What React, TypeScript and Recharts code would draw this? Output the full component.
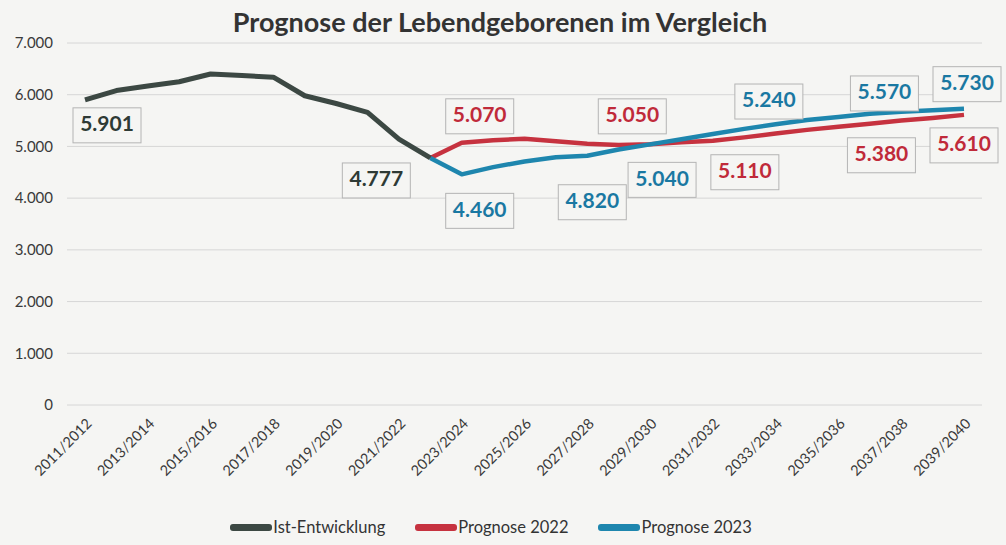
import { LineChart, Line, XAxis, YAxis, CartesianGrid, Legend } from "recharts";

const categories = [
  "2011/2012", "2012/2013", "2013/2014", "2014/2015", "2015/2016", "2016/2017",
  "2017/2018", "2018/2019", "2019/2020", "2020/2021", "2021/2022", "2022/2023",
  "2023/2024", "2024/2025", "2025/2026", "2026/2027", "2027/2028", "2028/2029",
  "2029/2030", "2030/2031", "2031/2032", "2032/2033", "2033/2034", "2034/2035",
  "2035/2036", "2036/2037", "2037/2038", "2038/2039", "2039/2040",
];

const istEntwicklung = [5901, 6080, 6170, 6250, 6400, 6370, 6340, 5980, 5830, 5660, 5140, 4777];

// Prognosen starten beim letzten Ist-Wert (2022/2023)
const prognose2022 = [
  4777, 5070, 5120, 5150, 5100, 5050, 5030, 5040, 5080, 5110,
  5175, 5250, 5320, 5380, 5440, 5500, 5550, 5610,
];
const prognose2023 = [
  4777, 4460, 4600, 4710, 4790, 4820, 4940, 5040, 5140, 5240,
  5340, 5430, 5510, 5570, 5630, 5670, 5700, 5730,
];
const prognoseStart = 11;

const yTicks = [0, 1000, 2000, 3000, 4000, 5000, 6000, 7000];

const seriesNames = ["Ist-Entwicklung", "Prognose 2022", "Prognose 2023"];

const data = categories.map((name, i) => ({
  name,
  ist: i < istEntwicklung.length ? istEntwicklung[i] : null,
  p22: i >= prognoseStart ? prognose2022[i - prognoseStart] : null,
  p23: i >= prognoseStart ? prognose2023[i - prognoseStart] : null,
}));

const COLORS = {
  ist: "#3c4843",
  p22: "#c6323f",
  p23: "#1e86ae",
};
const TEXT = {
  ist: "#2e3a35",
  p22: "#c02a3a",
  p23: "#1a78a2",
};

// label box offsets (dx, dy) relative to the point, by category index
const labelOffsets: Record<string, Record<number, [number, number]>> = {
  ist: { 0: [22, 25], 11: [-54, 22] },
  p22: { 12: [18, -27], 16: [45, -28], 20: [32, 31], 24: [43, 28], 28: [0, 30] },
  p23: { 12: [18, 36], 16: [5, 46], 18: [12, 35], 20: [56, -33], 24: [46, -24], 28: [3, -25] },
};

const fmt = (v: number) => v.toLocaleString("de-DE");

const FONT = "Lato, 'Open Sans', sans-serif";

function makeLabel(key: "ist" | "p22" | "p23") {
  return (props: any) => {
    const { x, y, value, index } = props;
    const off = labelOffsets[key][index];
    if (!off || value == null) return <g key={`${key}-${index}`} />;
    const cx = x + off[0];
    const cy = y + off[1];
    return (
      <g key={`${key}-${index}`}>
        <rect x={cx - 34} y={cy - 17} width={68} height={35} fill="#f5f5f3" stroke="#b4b4b4" strokeWidth={1} />
        <text
          x={cx}
          y={cy + 1}
          textAnchor="middle"
          dominantBaseline="middle"
          fill={TEXT[key]}
          fontFamily={FONT}
          fontWeight={700}
          fontSize={21}
        >
          {fmt(value)}
        </text>
      </g>
    );
  };
}

function XTick(props: any) {
  const { x, y, payload } = props;
  return (
    <g transform={`translate(${x + 4},${y + 8})`}>
      <text
        x={0}
        y={0}
        dy="0.35em"
        textAnchor="end"
        transform="rotate(-45)"
        fill="#3a3a3a"
        fontFamily={FONT}
        fontSize={14.5}
      >
        {payload.value}
      </text>
    </g>
  );
}

function LegendContent() {
  const keys: ("ist" | "p22" | "p23")[] = ["ist", "p22", "p23"];
  return (
    <div
      style={{
        display: "flex",
        justifyContent: "center",
        gap: 30,
        paddingTop: 6,
        fontFamily: FONT,
        fontSize: 16.5,
        color: "#333",
      }}
    >
      {keys.map((k, i) => (
        <div key={k} style={{ display: "flex", alignItems: "center" }}>
          <span style={{ display: "inline-block", width: 42, height: 7, borderRadius: 3, background: COLORS[k], marginRight: 1 }} />
          <span>{seriesNames[i]}</span>
        </div>
      ))}
    </div>
  );
}

export default function App() {
  return (
    <div style={{ position: "absolute", left: 0, top: 0, width: 1006, height: 545, background: "#f5f5f3" }}>
      <div
        style={{
          position: "absolute",
          top: 5,
          width: 1000,
          textAlign: "center",
          fontFamily: FONT,
          fontWeight: 700,
          fontSize: 27,
          color: "#333",
        }}
      >
        Prognose der Lebendgeborenen im Vergleich
      </div>
      <LineChart width={1006} height={545} data={data} margin={{ top: 43, right: 24, left: 0, bottom: 0 }}>
        <CartesianGrid vertical={false} stroke="#d6d6d6" />
        <XAxis
          dataKey="name"
          interval={1}
          axisLine={false}
          tickLine={false}
          padding={{ left: 18, right: 18 }}
          height={106}
          tick={<XTick />}
        />
        <YAxis
          domain={[0, 7000]}
          ticks={yTicks}
          width={67}
          axisLine={false}
          tickLine={false}
          tickMargin={8}
          tickFormatter={fmt}
          tick={{ fill: "#3a3a3a", fontSize: 15, fontFamily: FONT }}
        />
        <Legend verticalAlign="bottom" height={34} content={<LegendContent />} />
        <Line
          dataKey="p22"
          stroke={COLORS.p22}
          strokeWidth={4.5}
          dot={false}
          type="linear"
          strokeLinejoin="round"
          isAnimationActive={false}
          label={makeLabel("p22")}
        />
        <Line
          dataKey="p23"
          stroke={COLORS.p23}
          strokeWidth={4.5}
          dot={false}
          type="linear"
          strokeLinejoin="round"
          isAnimationActive={false}
          label={makeLabel("p23")}
        />
        <Line
          dataKey="ist"
          stroke={COLORS.ist}
          strokeWidth={5}
          dot={false}
          type="linear"
          strokeLinejoin="round"
          isAnimationActive={false}
          label={makeLabel("ist")}
        />
      </LineChart>
    </div>
  );
}
